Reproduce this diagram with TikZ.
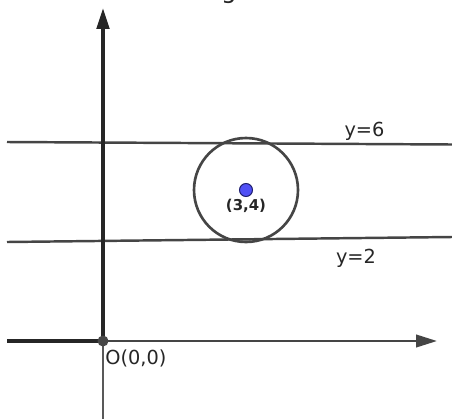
\documentclass[tikz,border=0pt]{standalone}
\usepackage{fontspec}
\setmainfont{DejaVu Sans}
\usetikzlibrary{arrows.meta}
\definecolor{axisdark}{HTML}{262626}
\definecolor{axisgray}{HTML}{595959}
\definecolor{linegray}{HTML}{454545}
\definecolor{ptblue}{HTML}{5050F5}
\definecolor{ptedge}{HTML}{202070}

\begin{document}
\begin{tikzpicture}[
  x=0.02cm, y=-0.02cm,
  font=\fontsize{11}{13}\selectfont,
  axis/.style={draw=axisdark, line width=2pt},
  halfaxis/.style={draw=axisgray, line width=1.4pt},
  hline/.style={draw=linegray, line width=1.4pt},
  tip/.style={-{Triangle[length=0.42cm, width=0.25cm]}},
  dot/.style={circle, inner sep=0pt, minimum size=#1},
  lbl/.style={inner sep=0pt, text=black!85}
]
\useasboundingbox (0,0) rectangle (452,419);

\coordinate (O) at (103,341);
\coordinate (ytop) at (103,8);
\coordinate (ybot) at (103,419);
\coordinate (xleft) at (7,341);
\coordinate (xright) at (437,341);
\coordinate (l6a) at (7,142);
\coordinate (l6b) at (452,144.5);
\coordinate (l2a) at (7,242);
\coordinate (l2b) at (452,237);

% cut-off title
\begin{scope}
  \clip (0,0) rectangle (452,20);
  \node[lbl, anchor=base, font=\fontsize{14}{16}\selectfont] (title) at (229,-2) {g};
\end{scope}

% lines y=6 and y=2
\draw[hline] (l6a) -- (l6b);
\draw[hline] (l2a) -- (l2b);

% axes
\draw[halfaxis] (O) -- (ybot);
\draw[axis, tip] (O) -- (ytop);
\draw[axis] (xleft) -- (O);
\draw[halfaxis, tip, draw=linegray, fill=linegray] (O) -- (xright);

% circle and centre
\node[circle, draw=linegray, line width=1.5pt, inner sep=0pt, minimum size=2.08cm] (C) at (246,190) {};
\node[dot=0.26cm, fill=ptblue, draw=ptedge, line width=0.6pt] (P) at (246,190) {};
\node[lbl, font=\bfseries\fontsize{8.5}{10}\selectfont] (Plbl) at (246,206) {(3,4)};

\node[dot=0.22cm, fill=axisdark!85] (Odot) at (O) {};
\node[lbl, anchor=west] (Olbl) at (105,358) {O(0,0)};

\node[lbl] (y6) at (364.5,131) {y=6};
\node[lbl] (y2) at (356,258) {y=2};
\end{tikzpicture}
\end{document}
